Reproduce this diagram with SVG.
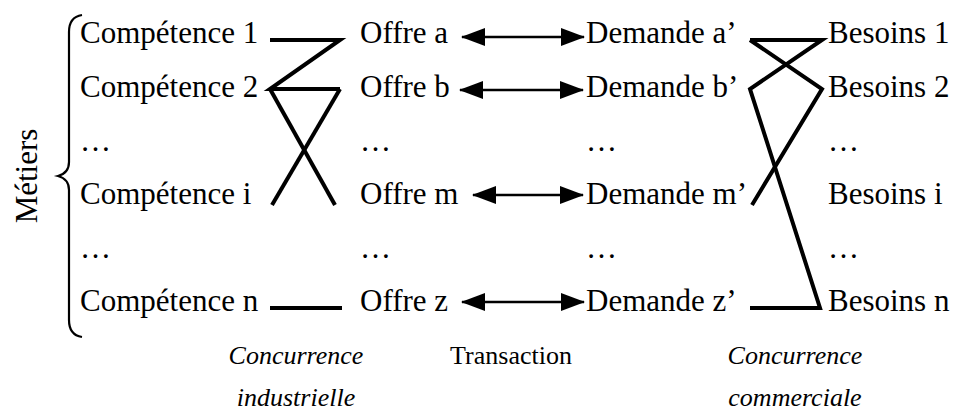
<svg xmlns="http://www.w3.org/2000/svg" width="975" height="414" viewBox="0 0 975 414">
<defs>
<style>
.t{font-family:"Liberation Serif","Times New Roman",serif;font-size:31px;fill:#000}
.tr{font-family:"Liberation Serif","Times New Roman",serif;font-size:26px;fill:#000}
.it{font-family:"Liberation Serif","Times New Roman",serif;font-size:26px;font-style:italic;fill:#000}
.ln{fill:none;stroke:#000;stroke-width:4;stroke-linejoin:miter;stroke-linecap:butt}
.ar{fill:none;stroke:#000;stroke-width:2.5}
.br{fill:none;stroke:#000;stroke-width:2.2}
</style>
<marker id="ah" viewBox="0 0 24 18" refX="23" refY="9" markerWidth="24" markerHeight="18" markerUnits="userSpaceOnUse" orient="auto-start-reverse">
<path d="M0,0 L24,9 L0,18 Z" fill="#000"/>
</marker>
</defs>
<rect width="975" height="414" fill="#fff"/>

<g id="metiers">
<text class="t" transform="translate(37,176) rotate(-90)" text-anchor="middle">Métiers</text>
<path class="br" d="M82,15 Q69,17 69,32 L69,162 Q69,173 58,176 Q69,179 69,190 L69,320 Q69,335 82,337"/>
</g>

<g id="competences">
<text class="t" x="80" y="43">Compétence 1</text>
<text class="t" x="80" y="97">Compétence 2</text>
<text class="t" x="80" y="151">…</text>
<text class="t" x="80" y="204">Compétence i</text>
<text class="t" x="80" y="258">…</text>
<text class="t" x="80" y="311">Compétence n</text>
</g>

<g id="offres">
<text class="t" x="360" y="43">Offre a</text>
<text class="t" x="360" y="97">Offre b</text>
<text class="t" x="360" y="151">…</text>
<text class="t" x="360" y="204">Offre m</text>
<text class="t" x="360" y="258">…</text>
<text class="t" x="360" y="311">Offre z</text>
</g>

<g id="demandes">
<text class="t" x="586" y="43">Demande a’</text>
<text class="t" x="586" y="97">Demande b’</text>
<text class="t" x="586" y="151">…</text>
<text class="t" x="586" y="204">Demande m’</text>
<text class="t" x="586" y="258">…</text>
<text class="t" x="586" y="311">Demande z’</text>
</g>

<g id="besoins">
<text class="t" x="828" y="43">Besoins 1</text>
<text class="t" x="828" y="97">Besoins 2</text>
<text class="t" x="828" y="151">…</text>
<text class="t" x="828" y="204">Besoins i</text>
<text class="t" x="828" y="258">…</text>
<text class="t" x="828" y="311">Besoins n</text>
</g>

<g id="labels">
<text class="it" x="296" y="364" text-anchor="middle">Concurrence</text>
<text class="it" x="296" y="406" text-anchor="middle">industrielle</text>
<text class="tr" x="511" y="364" text-anchor="middle">Transaction</text>
<text class="it" x="795" y="364" text-anchor="middle">Concurrence</text>
<text class="it" x="795" y="406" text-anchor="middle">commerciale</text>
</g>

<g id="connectors">
<path class="ln" d="M270,40 L340,40 L270,89 L340,89"/>
<path class="ln" d="M270,89 L335,205"/>
<path class="ln" d="M340,89 L272,205"/>
<path class="ln" d="M270,308 L342,308"/>
<path class="ln" d="M750,40 L822,40 L750,89 L820,308 L750,308"/>
<path class="ln" d="M750,40 L822,89 L752,205"/>
<line class="ar" x1="462" y1="37" x2="584" y2="37" marker-start="url(#ah)" marker-end="url(#ah)"/>
<line class="ar" x1="460" y1="90" x2="583" y2="90" marker-start="url(#ah)" marker-end="url(#ah)"/>
<line class="ar" x1="473" y1="195" x2="583" y2="195" marker-start="url(#ah)" marker-end="url(#ah)"/>
<line class="ar" x1="462" y1="302" x2="584" y2="302" marker-start="url(#ah)" marker-end="url(#ah)"/>
</g>
</svg>
